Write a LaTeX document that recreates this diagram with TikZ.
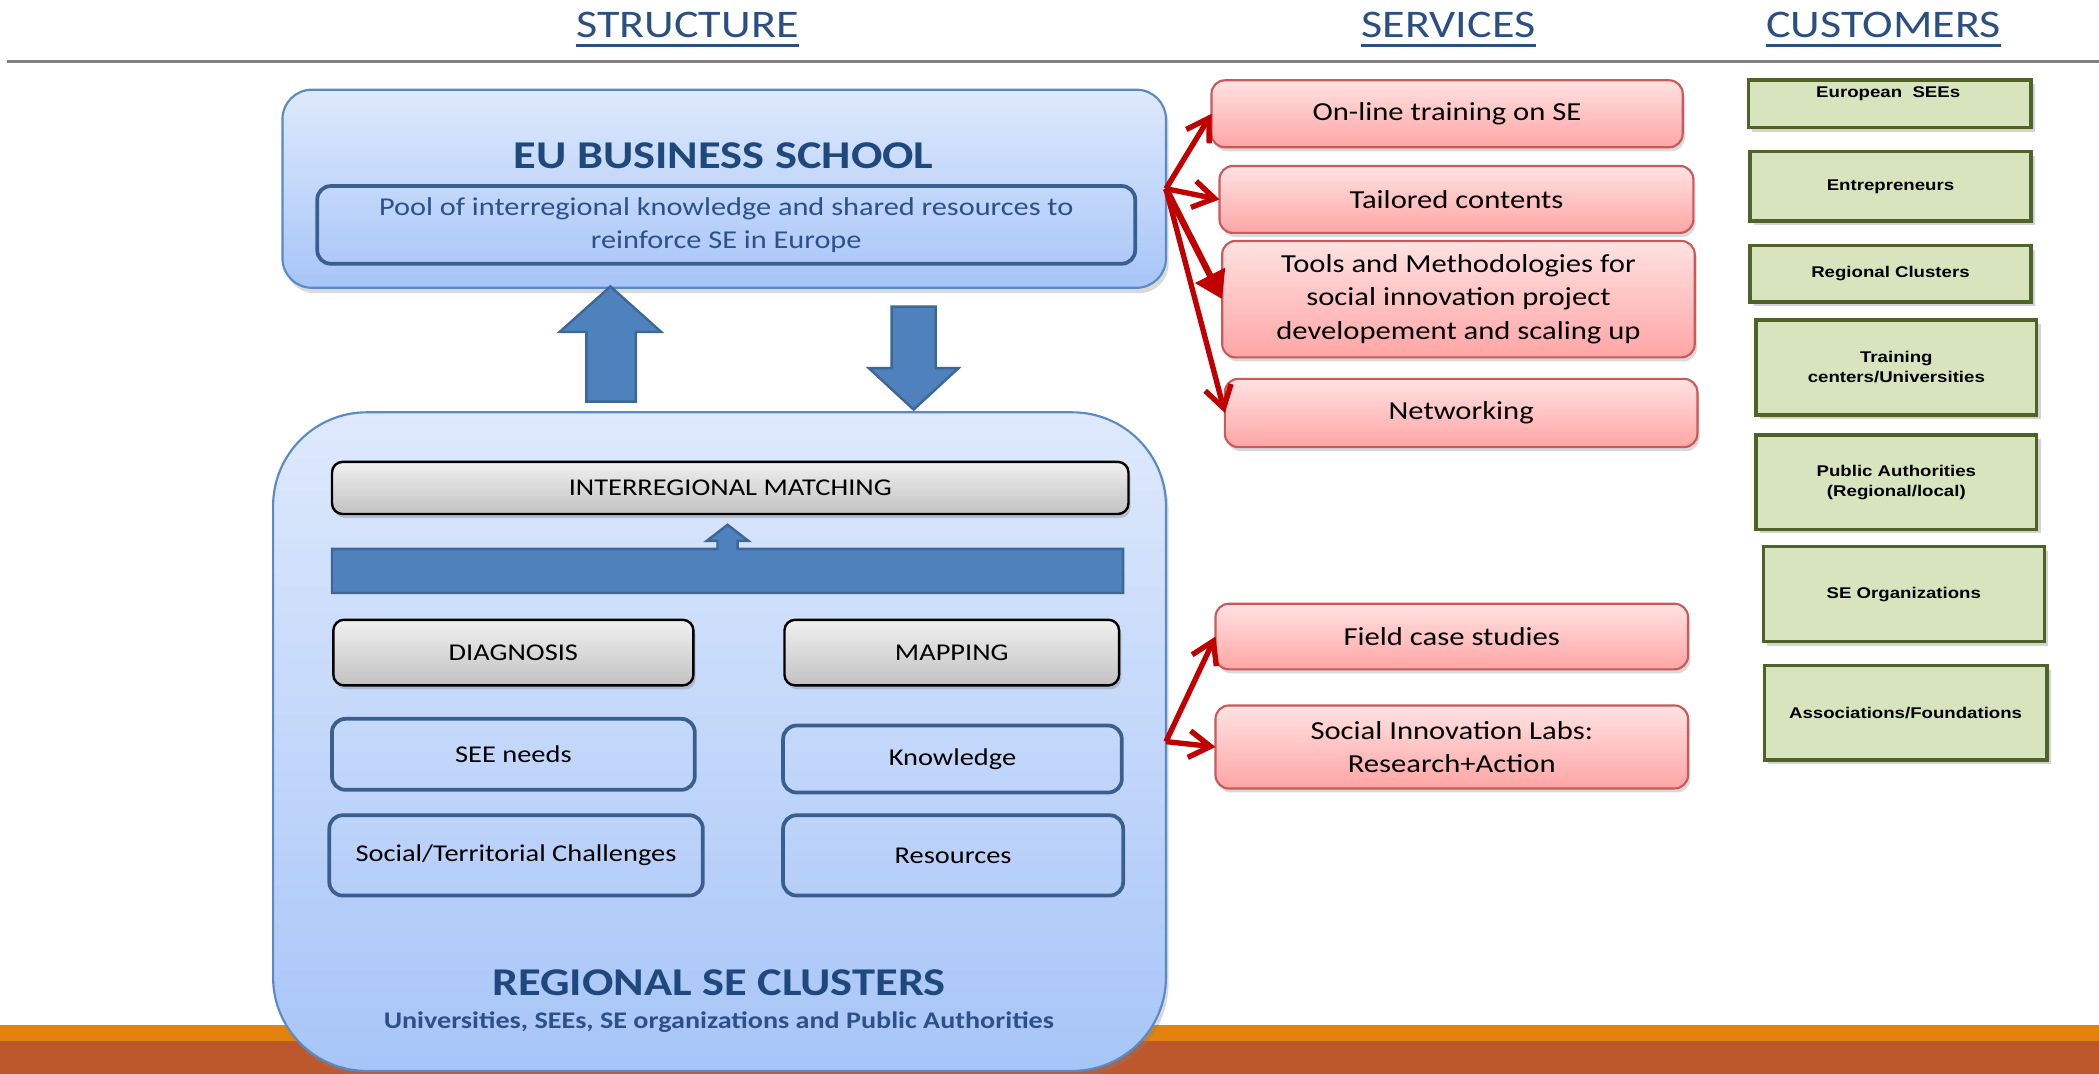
\documentclass[tikz,border=0pt]{standalone}
\usepackage{fontspec}
\setmainfont{Carlito}[FakeStretch=1.18]
\newfontfamily\custfont{Liberation Sans}[FakeStretch=1.2]
\usetikzlibrary{shadows,arrows.meta}
\definecolor{hdr}{HTML}{2B4F81}
\definecolor{navy}{HTML}{1F497D}
\definecolor{navylt}{HTML}{2E5088}
\definecolor{bluetop}{HTML}{DEE9FC}
\definecolor{bluebot}{HTML}{A7C5F8}
\definecolor{blueedge}{HTML}{5A8AC6}
\definecolor{inneredge}{HTML}{3A5F8E}
\definecolor{barblue}{HTML}{4F81BD}
\definecolor{baredge}{HTML}{3C6796}
\definecolor{graytop}{HTML}{F0F0F0}
\definecolor{graybot}{HTML}{C2C2C2}
\definecolor{pinktop}{HTML}{FFE2E2}
\definecolor{pinkbot}{HTML}{FFA5A5}
\definecolor{pinkedge}{HTML}{C9595A}
\definecolor{arrowred}{HTML}{C00000}
\definecolor{custfill}{HTML}{D7E4BD}
\definecolor{custedge}{HTML}{4F6228}
\definecolor{orangebar}{HTML}{E3820F}
\definecolor{brickbar}{HTML}{BD582C}
\definecolor{linegray}{HTML}{808080}
\tikzset{
  heading/.style={inner sep=0pt, text=hdr, font=\fontsize{14.6}{16}\selectfont},
  bigbox/.style={draw=blueedge, line width=0.8pt, rounded corners=11pt, top color=bluetop, bottom color=bluebot,
    inner sep=0pt, outer sep=0pt,
    drop shadow={shadow xshift=1pt, shadow yshift=-2pt, opacity=0.3}},
  poolbox/.style={draw=inneredge, line width=1.4pt, rounded corners=5pt, inner sep=0pt, outer sep=0pt,
    align=center, text=navylt, font=\fontsize{9.6}{12.5}\selectfont},
  titletext/.style={inner sep=0pt, text=navy, font=\bfseries\fontsize{14.7}{16}\selectfont},
  subtext/.style={inner sep=0pt, text=navylt, font=\bfseries\fontsize{8.9}{10}\selectfont},
  graybox/.style={draw=black, line width=0.9pt, rounded corners=4pt, top color=graytop, bottom color=graybot,
    inner sep=0pt, outer sep=0pt, font=\fontsize{9}{10}\selectfont,
    drop shadow={shadow xshift=0.8pt, shadow yshift=-1.5pt, opacity=0.35}},
  outlinebox/.style={draw=inneredge, line width=1.4pt, rounded corners=5pt, inner sep=0pt, outer sep=0pt,
    font=\fontsize{9}{10}\selectfont},
  blockarrow/.style={fill=barblue, draw=baredge, line width=0.9pt, line join=miter},
  svc/.style={draw=pinkedge, line width=0.8pt, rounded corners=5pt, top color=pinktop, bottom color=pinkbot,
    inner sep=0pt, outer sep=0pt, align=center, font=\fontsize{9.7}{12.6}\selectfont,
    drop shadow={shadow xshift=0.8pt, shadow yshift=-1.5pt, opacity=0.3}},
  cust/.style={draw=custedge, line width=1.3pt, fill=custfill, inner sep=0pt, outer sep=0pt,
    align=center, font=\custfont\bfseries\fontsize{5.8}{7.5}\selectfont,
    drop shadow={shadow xshift=1.5pt, shadow yshift=-1.5pt, opacity=0.35}},
  custtxt/.style={inner sep=0pt, font=\custfont\bfseries\fontsize{5.8}{7.5}\selectfont},
  redarrow/.style={draw=arrowred, line width=2pt, -{Straight Barb[length=8pt,width=10pt]}},
  redtri/.style={draw=arrowred, line width=2.4pt, -{Triangle[length=10pt,width=12pt]}},
}
\begin{document}
\begin{tikzpicture}[x=0.5pt, y=-0.5pt]
\useasboundingbox (0,0) rectangle (1568,802);
% bottom bars
\fill[orangebar] (0,766) rectangle (1568,777.5);
\fill[brickbar] (0,777.5) rectangle (1568,802);
% header
\draw[linegray, line width=1pt] (5,46) -- (1568,46);
\node[heading, anchor=base] (hs) at (513.5,28) {STRUCTURE};
\node[heading, anchor=base] (hv) at (1082,28) {SERVICES};
\node[heading, anchor=base] (hc) at (1407,28) {CUSTOMERS};
\foreach \h in {hs,hv,hc}{
  \draw[hdr, line width=1pt] ([yshift=-3pt]\h.base west) -- ([yshift=-3pt]\h.base east);
}
% EU business school
\node[bigbox, minimum width=330pt, minimum height=74pt] (eu) at (541,141) {};
\node[titletext, anchor=base] (eut) at (540.5,126) {EU BUSINESS SCHOOL};
\node[poolbox, minimum width=305.5pt, minimum height=29pt] (pool) at (542.5,168)
  {Pool of interregional knowledge and shared resources to\\reinforce SE in Europe};
% block arrows
\draw[blockarrow] (456,214) -- (494,248) -- (475,248) -- (475,300) -- (438,300) -- (438,248) -- (418,248) -- cycle;
\draw[blockarrow] (666,229) -- (699,229) -- (699,275) -- (716,275) -- (682.5,306) -- (649,275) -- (666,275) -- cycle;
% regional clusters
\node[bigbox, rounded corners=35pt, minimum width=333.5pt, minimum height=246pt] (reg) at (537.5,554) {};
\node[graybox, minimum width=297.5pt, minimum height=19.5pt] (match) at (545.5,364.5) {INTERREGIONAL MATCHING};
\draw[blockarrow] (248,410) -- (536,410) -- (536,404) -- (528,404) -- (543.5,392) -- (559,404) -- (551,404)
  -- (551,410) -- (839,410) -- (839,443) -- (248,443) -- cycle;
\node[graybox, minimum width=134.5pt, minimum height=24.5pt] (diag) at (383.5,487.5) {DIAGNOSIS};
\node[graybox, minimum width=125pt, minimum height=24.5pt] (map) at (711,487.5) {MAPPING};
\node[outlinebox, minimum width=135.5pt, minimum height=26.5pt] (see) at (383.5,563.5) {SEE needs};
\node[outlinebox, minimum width=126.5pt, minimum height=25pt] (know) at (711.5,567) {Knowledge};
\node[outlinebox, minimum width=139.5pt, minimum height=30pt] (soc) at (385.5,639) {Social/Territorial Challenges};
\node[outlinebox, minimum width=127pt, minimum height=30pt] (res) at (712,639) {Resources};
\node[titletext, anchor=base] (regt) at (537,743.5) {REGIONAL SE CLUSTERS};
\node[subtext, anchor=base] (regs) at (537,768) {Universities, SEEs, SE organizations and Public Authorities};
% services
\node[svc, minimum width=176pt, minimum height=25pt] (s1) at (1081,85) {On-line training on SE};
\node[svc, minimum width=177pt, minimum height=25pt] (s2) at (1088,149) {Tailored contents};
\node[svc, minimum width=176.5pt, minimum height=43.5pt] (s3) at (1089.5,223.5)
  {Tools and Methodologies for\\social innovation project\\developement and scaling up};
\node[svc, minimum width=176.5pt, minimum height=25.5pt] (s4) at (1091.5,308.5) {Networking};
\node[svc, minimum width=176.5pt, minimum height=24.5pt] (s5) at (1084.5,475.5) {Field case studies};
\node[svc, minimum width=176.5pt, minimum height=31pt] (s6) at (1084.5,558) {Social Innovation Labs:\\Research+Action};
% customers
\node[cust, minimum width=105.6pt, minimum height=17.8pt] (c1) at (1411.6,77.6) {};
\node[custtxt] (c1t) at (1410.5,69.7) {European\ \ SEEs};
\node[cust, minimum width=105pt, minimum height=25.9pt] (c2) at (1412.2,139.2) {Entrepreneurs};
\node[cust, minimum width=105pt, minimum height=21pt] (c3) at (1412.2,204.5) {Regional Clusters};
\node[cust, minimum width=104.8pt, minimum height=35.5pt] (c4) at (1416.6,274.5) {Training\\centers/Universities};
\node[cust, minimum width=104.8pt, minimum height=35.2pt] (c5) at (1416.6,360.2) {Public Authorities\\(Regional/local)};
\node[cust, minimum width=105pt, minimum height=35.5pt] (c6) at (1422.2,443.9) {SE Organizations};
\node[cust, minimum width=105.5pt, minimum height=35.2pt] (c7) at (1423.5,532.5) {Associations/Foundations};
% red arrows
\draw[redarrow] (eu.east) -- (s1.west);
\draw[redarrow] (eu.east) -- (s2.west);
\draw[redtri] (eu.east) -- (s3.west);
\draw[redarrow] (eu.east) -- (s4.west);
\draw[redarrow] (reg.east) -- (s5.west);
\draw[redarrow] (reg.east) -- (s6.west);
\end{tikzpicture}
\end{document}
